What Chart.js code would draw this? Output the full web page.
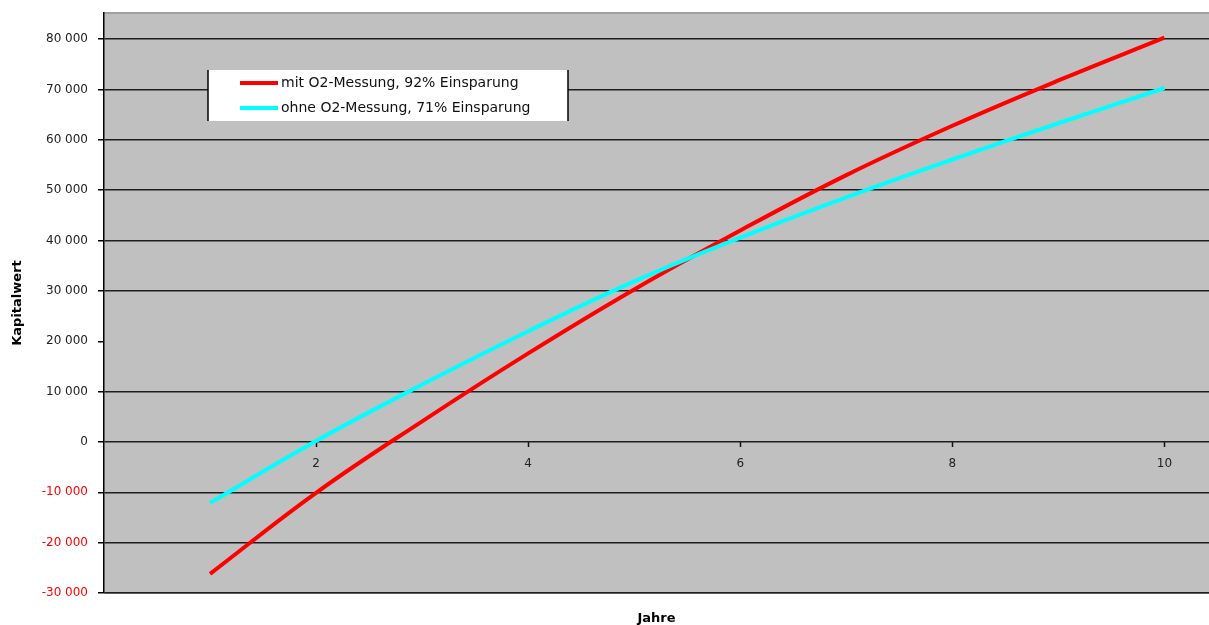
<!DOCTYPE html>
<html>
<head>
<meta charset="utf-8">
<script src="https://cdn.jsdelivr.net/npm/chart.js@4.4.1/dist/chart.umd.min.js"></script>
<style>
  html, body { margin: 0; padding: 0; background: #fff; }
  #wrap { width: 1209px; height: 625px; }
</style>
</head>
<body>
<div id="wrap"><canvas id="c" width="1209" height="625"></canvas></div>
<script>
// Kapitalwert über die Nutzungsdauer (Jahre 1–10)
const jahre = [1, 2, 3, 4, 5, 6, 7, 8, 9, 10];
const mitO2 = [-26200, -10100, 4100, 17600, 30300, 42000, 53000, 62800, 71800, 80300];
const ohneO2 = [-12100, 200, 11400, 22000, 31900, 40600, 48600, 56100, 63300, 70300];
const seriesLabels = ['mit O2-Messung, 92% Einsparung', 'ohne O2-Messung, 71% Einsparung'];
const seriesColors = ['#ff0000', '#00ffff'];
const xTickValues = [2, 4, 6, 8, 10];
const yTickValues = [-30000, -20000, -10000, 0, 10000, 20000, 30000, 40000, 50000, 60000, 70000, 80000];

const FONT = '"DejaVu Sans", "Liberation Sans", Arial, sans-serif';

function formatNumber(v) {
  const s = Math.abs(v).toString().replace(/\B(?=(\d{3})+(?!\d))/g, ' ');
  return (v < 0 ? '-' : '') + s;
}

// grey plot area with light frame lines top and bottom
const plotBackground = {
  id: 'plotBackground',
  beforeDraw(chart) {
    const { ctx, chartArea: { left, top, right, bottom } } = chart;
    ctx.save();
    ctx.fillStyle = '#c0c0c0';
    ctx.fillRect(left, top, right - left, bottom - top);
    ctx.strokeStyle = '#a0a0a0';
    ctx.lineWidth = 2;
    ctx.beginPath();
    ctx.moveTo(left, top); ctx.lineTo(right, top);
    ctx.moveTo(left, bottom); ctx.lineTo(right, bottom);
    ctx.stroke();
    ctx.restore();
  }
};

// legend box placed inside the plot area
const legendBox = {
  id: 'legendBox',
  afterDatasetsDraw(chart) {
    const { ctx, chartArea } = chart;
    const x0 = chartArea.left + 104, y0 = chartArea.top + 57, w = 360, h = 51;
    ctx.save();
    ctx.fillStyle = '#ffffff';
    ctx.fillRect(x0, y0, w, h);
    ctx.strokeStyle = '#000';
    ctx.lineWidth = 1.5;
    ctx.beginPath();
    ctx.moveTo(x0, y0); ctx.lineTo(x0, y0 + h);
    ctx.moveTo(x0 + w, y0); ctx.lineTo(x0 + w, y0 + h);
    ctx.stroke();
    ctx.font = '14px ' + FONT;
    ctx.textBaseline = 'middle';
    ctx.textAlign = 'left';
    chart.data.datasets.forEach((ds, i) => {
      const y = y0 + 13 + i * 25;
      ctx.strokeStyle = ds.borderColor;
      ctx.lineWidth = 4;
      ctx.beginPath();
      ctx.moveTo(x0 + 32, y); ctx.lineTo(x0 + 70, y);
      ctx.stroke();
      ctx.fillStyle = '#111';
      ctx.fillText(ds.label, x0 + 73, y);
    });
    ctx.restore();
  }
};

const datasets = [mitO2, ohneO2].map((values, i) => ({
  label: seriesLabels[i],
  data: jahre.map((x, k) => ({ x, y: values[k] })),
  borderColor: seriesColors[i],
  backgroundColor: seriesColors[i],
  borderWidth: 4,
  pointRadius: 0,
  showLine: true,
  tension: 0.4,
  borderCapStyle: 'butt',
  order: i === 0 ? 1 : 0
}));

new Chart(document.getElementById('c'), {
  type: 'scatter',
  data: { datasets },
  plugins: [plotBackground, legendBox],
  options: {
    responsive: false,
    animation: false,
    layout: { padding: { top: 13, left: 0, right: 0, bottom: 0 } },
    plugins: {
      legend: { display: false },
      tooltip: { enabled: false },
      title: {
        display: true,
        text: 'Jahre',
        position: 'bottom',
        fullSize: false,
        color: '#000',
        font: { family: FONT, size: 13, weight: 'bold', lineHeight: 1 },
        padding: { top: 19, bottom: 0 }
      }
    },
    scales: {
      x: {
        type: 'linear',
        position: { y: 0 },
        min: 0,
        max: 10.42,
        afterBuildTicks: s => { s.ticks = xTickValues.map(v => ({ value: v })); },
        grid: { drawOnChartArea: false, drawTicks: true, tickLength: 5, tickColor: '#111', tickWidth: 1.5 },
        border: { display: false },
        ticks: {
          color: '#222',
          font: { family: FONT, size: 12 },
          padding: 10,
          maxRotation: 0,
          callback: v => String(v)
        }
      },
      y: {
        type: 'linear',
        position: 'left',
        min: -30000,
        max: 85200,
        afterBuildTicks: s => { s.ticks = yTickValues.map(v => ({ value: v })); },
        afterFit: s => { s.width = 104; s.paddingTop = 0; s.paddingBottom = 0; },
        grid: {
          color: c => (c.tick && c.tick.value === 20000) ? 'rgba(0,0,0,0)' : '#1e1e1e',
          lineWidth: 1.5,
          tickLength: 6,
          tickColor: '#000',
          tickWidth: 1.5
        },
        border: { display: true, color: '#000', width: 1.5 },
        ticks: {
          color: c => c.tick.value < 0 ? '#ff0000' : '#222',
          font: { family: FONT, size: 12 },
          padding: 10,
          callback: v => formatNumber(v)
        },
        title: {
          display: true,
          text: 'Kapitalwert',
          color: '#000',
          font: { family: FONT, size: 13, weight: 'bold' },
          padding: { top: 10, bottom: 0 }
        }
      }
    }
  }
});
</script>
</body>
</html>
